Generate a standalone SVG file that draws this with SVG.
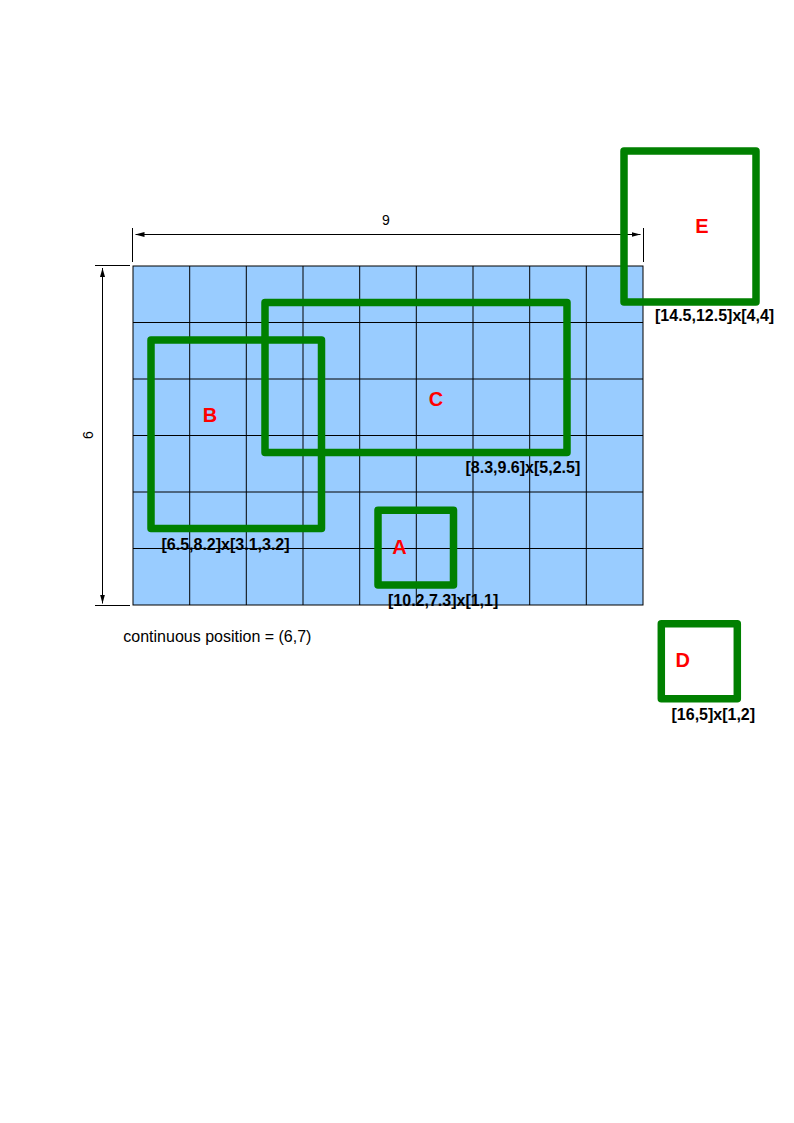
<svg xmlns="http://www.w3.org/2000/svg" width="794" height="1123" viewBox="0 0 794 1123">
<style>
.grid{stroke:#000;stroke-width:1;fill:none}
.box{fill:none;stroke:#008000;stroke-width:7.5;stroke-linejoin:round}
.lbl{font-family:"Liberation Sans",Arial,sans-serif;font-size:20px;font-weight:bold;fill:#ff0000;text-anchor:middle}
.cap{font-family:"Liberation Sans",Arial,sans-serif;font-size:16px;font-weight:bold;fill:#000}
.dim{stroke:#000;stroke-width:1;fill:none}
.dimtxt{font-family:"Liberation Sans",Arial,sans-serif;font-size:14px;fill:#000;text-anchor:middle}
.note{font-family:"Liberation Sans",Arial,sans-serif;font-size:16px;fill:#000}
</style>
<defs>
<marker id="arr" markerWidth="9" markerHeight="6" refX="9" refY="3" orient="auto" markerUnits="userSpaceOnUse">
<path d="M0,0.5 L9,3 L0,5.5 Z" fill="#000"/>
</marker>
</defs>
<rect width="794" height="1123" fill="#fff"/>
<g id="grid">
<rect x="133" y="266" width="510" height="339" fill="#99ccff" stroke="#000" stroke-width="1"/>
<path class="grid" d="M189.7,266V605M246.3,266V605M303,266V605M359.7,266V605M416.3,266V605M473,266V605M529.7,266V605M586.3,266V605M133,322.5H643M133,379H643M133,435.5H643M133,492H643M133,548.5H643"/>
</g>
<g id="connectors">
<path class="dim" d="M132.5,228V262M643.5,228V262M95,265.5H130M95,605.5H130"/>
<line class="dim" x1="144" y1="234.5" x2="632" y2="234.5"/>
<line class="dim" x1="144" y1="234.5" x2="135.5" y2="234.5" marker-end="url(#arr)"/>
<line class="dim" x1="632" y1="234.5" x2="640.5" y2="234.5" marker-end="url(#arr)"/>
<line class="dim" x1="102.5" y1="276" x2="102.5" y2="595"/>
<line class="dim" x1="102.5" y1="276" x2="102.5" y2="268" marker-end="url(#arr)"/>
<line class="dim" x1="102.5" y1="595" x2="102.5" y2="603.5" marker-end="url(#arr)"/>
<text class="dimtxt" x="386" y="224.5">9</text>
<text class="dimtxt" transform="translate(92.5,435) rotate(-90)" x="0" y="0">6</text>
</g>
<g id="nodeB">
<rect class="box" x="151" y="340" width="170.5" height="188.5"/>
<text class="lbl" x="210" y="421.5">B</text>
<text class="cap" x="161.5" y="549.5">[6.5,8.2]x[3.1,3.2]</text>
</g>
<g id="nodeC">
<rect class="box" x="265" y="302.5" width="302" height="150"/>
<text class="lbl" x="436" y="406">C</text>
<text class="cap" x="465.5" y="472.5">[8.3,9.6]x[5,2.5]</text>
</g>
<g id="nodeA">
<rect class="box" x="378" y="510.3" width="75.5" height="74.7"/>
<text class="lbl" x="399.5" y="554">A</text>
<text class="cap" x="388" y="605.5">[10.2,7.3]x[1,1]</text>
</g>
<g id="nodeE">
<rect class="box" x="624" y="151" width="132" height="151"/>
<text class="lbl" x="702" y="232.7">E</text>
<text class="cap" x="655" y="321">[14.5,12.5]x[4,4]</text>
</g>
<g id="nodeD">
<rect class="box" x="661.3" y="623.7" width="76" height="75"/>
<text class="lbl" x="682.7" y="667.3">D</text>
<text class="cap" x="671.5" y="719.5">[16,5]x[1,2]</text>
</g>
<text class="note" x="123.3" y="641.5">continuous position = (6,7)</text>
</svg>
